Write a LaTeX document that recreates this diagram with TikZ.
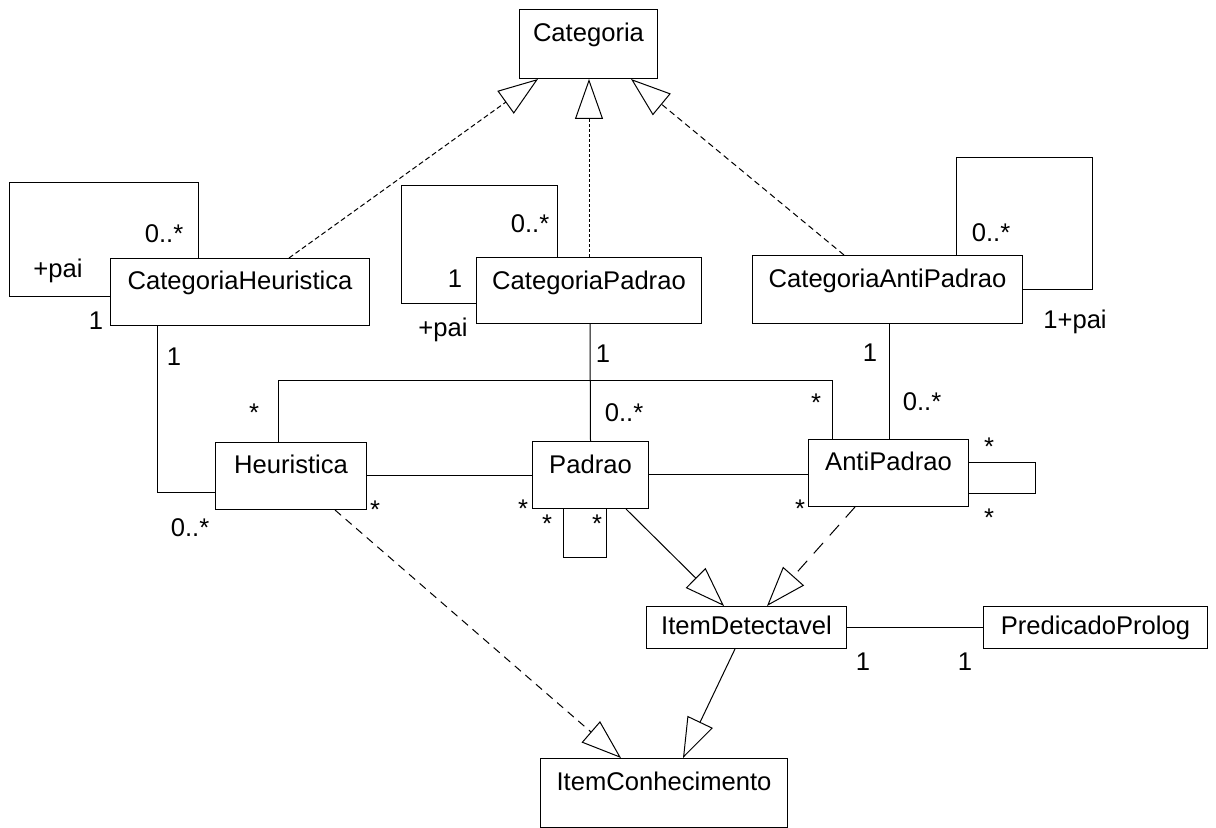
\documentclass[tikz,border=0pt]{standalone}
\usepackage{fontspec}
\setmainfont{Liberation Sans}
\usetikzlibrary{arrows.meta,calc}
\newcommand\umlfont{\fontsize{12.8pt}{15pt}\selectfont}
\begin{document}
\begin{tikzpicture}[x=0.5pt,y=-0.5pt,
  cls/.style={draw, line width=0.5pt, inner sep=0pt, anchor=north west, font=\umlfont},
  mult/.style={inner sep=0pt, anchor=base, font=\umlfont},
  assoc/.style={line width=0.5pt},
  gen/.style={line width=0.5pt, -{Triangle[open, length=20pt, width=14pt, line width=0.5pt]}},
  finedash/.style={dash pattern=on 2.5pt off 1.5pt},
  dotdash/.style={dash pattern=on 1.5pt off 1pt},
  middash/.style={dash pattern=on 3pt off 2pt},
  longdash/.style={dash pattern=on 4pt off 3pt},
  widedash/.style={dash pattern=on 7pt off 5pt}]
\useasboundingbox (0,0) rectangle (1216,828);

% classes
\node[cls, minimum width=69pt,   text height=16pt,   text depth=18.5pt] (cat) at (519,9)   {Categoria};
\node[cls, minimum width=129.5pt, text height=15.5pt, text depth=18pt]  (ch)  at (110,258) {CategoriaHeuristica};
\node[cls, minimum width=112.5pt, text height=16pt,   text depth=17pt]  (cp)  at (476,257) {CategoriaPadrao};
\node[cls, minimum width=135pt,  text height=16pt,   text depth=18pt]  (cap) at (752,255) {CategoriaAntiPadrao};
\node[cls, minimum width=75.5pt, text height=15.5pt, text depth=18pt]  (heu) at (215,442) {Heuristica};
\node[cls, minimum width=58pt,   text height=16pt,   text depth=17.5pt] (pad) at (532,441) {Padrao};
\node[cls, minimum width=80pt,   text height=15.5pt, text depth=18pt]  (ap)  at (808,439) {AntiPadrao};
\node[cls, minimum width=100pt,  text height=14pt,   text depth=7pt]   (id)  at (646,606) {ItemDetectavel};
\node[cls, minimum width=112pt,  text height=14pt,   text depth=7pt]   (pp)  at (983,606) {PredicadoProlog};
\node[cls, minimum width=123.5pt, text height=16pt,  text depth=18.5pt] (ic)  at (540,758) {ItemConhecimento};

% generalisations towards Categoria
\draw[gen, finedash] ($(ch.north west)+(179,0)$) -- ($(cat.south west)+(19,0)$);
\draw[gen, dotdash]  ($(cp.north west)+(113,0)$) -- ($(cat.south west)+(70,0)$);
\draw[gen, middash]  ($(cap.north west)+(92,0)$) -- ($(cat.south west)+(112,0)$);

% self associations of the categories
\draw[assoc] ($(ch.north west)+(88,0)$) |- ($(ch.north west)+(-101,-75)$) |- ($(ch.north west)+(0,39)$);
\draw[assoc] ($(cp.north west)+(81,0)$) |- ($(cp.north west)+(-75,-71)$) |- ($(cp.north west)+(0,47)$);
\draw[assoc] ($(cap.north west)+(204,0)$) |- ($(cap.north east)+(69,-97)$) |- ($(cap.north east)+(0,35)$);

% category to item associations
\draw[assoc] ($(ch.south west)+(47,0)$) |- ($(heu.north west)+(0,51)$);
\draw[assoc] ($(cp.south west)+(114,0)$) -- (pad.north);
\draw[assoc] ($(cap.south west)+(137,0)$) -- ($(ap.north west)+(81,0)$);

% associations between the items
\draw[assoc] ($(heu.north west)+(63,0)$) |- ($(ap.north west)+(24,-58)$) -- ($(ap.north west)+(24,0)$);
\draw[assoc] (heu.east) -- (heu.east -| pad.west);
\draw[assoc] (pad.east) -- (pad.east -| ap.west);
\draw[assoc] ($(pad.south west)+(31,0)$) |- ($(pad.south west)+(74,49)$) -- ($(pad.south west)+(74,0)$);
\draw[assoc] ($(ap.north east)+(0,24)$) -| ($(ap.north east)+(66,55)$) -- ($(ap.north east)+(0,55)$);
\draw[assoc] (id.east) -- (id.east -| pp.west);

% generalisations towards ItemDetectavel and ItemConhecimento
\draw[gen] ($(pad.south west)+(94,0)$) -- ($(id.north west)+(78,0)$);
\draw[gen, widedash] ($(ap.south west)+(47,0)$) -- ($(id.north west)+(121,0)$);
\draw[gen, longdash] ($(heu.south west)+(120,0)$) -- ($(ic.north west)+(81,0)$);
\draw[gen] ($(id.south west)+(89,0)$) -- ($(ic.north west)+(143,0)$);

% multiplicities and roles
\node[mult] (m1)  at (164,243) {0..*};
\node[mult] (m2)  at (58,278)  {+pai};
\node[mult] (m3)  at (96,330)  {1};
\node[mult] (m4)  at (530,233) {0..*};
\node[mult] (m5)  at (455,288) {1};
\node[mult] (m6)  at (443,337) {+pai};
\node[mult] (m7)  at (991,242) {0..*};
\node[mult] (m8)  at (1075,329) {1+pai};
\node[mult] (m9)  at (174,366) {1};
\node[mult] (m10) at (190,537) {0..*};
\node[mult] (m11) at (254,422) {*};
\node[mult] (m12) at (816,412) {*};
\node[mult] (m13) at (603,363) {1};
\node[mult] (m14) at (624,422) {0..*};
\node[mult] (m15) at (870,362) {1};
\node[mult] (m16) at (922,411) {0..*};
\node[mult] (m17) at (375,519) {*};
\node[mult] (m18) at (523,517) {*};
\node[mult] (m19) at (547,532) {*};
\node[mult] (m20) at (597,532) {*};
\node[mult] (m21) at (800,517) {*};
\node[mult] (m22) at (989,456) {*};
\node[mult] (m23) at (989,527) {*};
\node[mult] (m24) at (863,670) {1};
\node[mult] (m25) at (965,670) {1};
\end{tikzpicture}
\end{document}
